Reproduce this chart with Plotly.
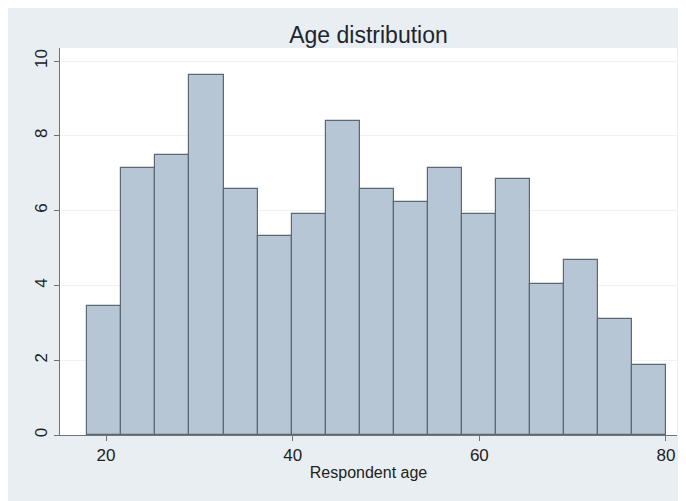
import plotly.graph_objects as go

# ---- data ----
bin_start = 18.0
bin_end = 80.0
percent = [3.44, 7.15, 7.48, 9.63, 6.57, 5.32, 5.92, 8.39, 6.57,
           6.23, 7.15, 5.92, 6.84, 4.04, 4.67, 3.11, 1.86]
x_ticks = [20, 40, 60, 80]
y_ticks = [0, 2, 4, 6, 8, 10]
title_text = "Age distribution"
x_title = "Respondent age"

n_bins = len(percent)
bw = (bin_end - bin_start) / n_bins
centers = [bin_start + bw * (i + 0.5) for i in range(n_bins)]

BG = "#E9EEF2"
FONT = "Liberation Sans, Arial, sans-serif"
TXT = "#222222"

fig = go.Figure()
fig.add_trace(go.Bar(
    x=centers, y=percent, width=[bw] * n_bins,
    marker=dict(color="#B7C6D4", line=dict(color="#5E6873", width=1.2)),
    hoverinfo="x+y",
))

# page is offset by the 8px body margin
W, H = 678, 493
L, R, T, B = 52, 9, 40, 66
pw, ph = W - L - R, H - T - B

fig.update_layout(
    width=W, height=H,
    margin=dict(l=L, r=R, t=T, b=B, pad=0),
    paper_bgcolor=BG,
    plot_bgcolor="white",
    showlegend=False,
    bargap=0,
    font=dict(family=FONT, color=TXT, size=16),
    title=dict(text=title_text, x=(L + pw / 2) / W, xanchor="center",
               y=1 - 27 / H, yanchor="middle",
               font=dict(size=23, color="#1E2530", family=FONT)),
)
fig.update_xaxes(
    range=[15.07, 81.18], tickvals=x_ticks, ticks="outside", ticklen=5,
    tickcolor="#6E747A", showline=True, linecolor="#6E747A", linewidth=1,
    showgrid=False, zeroline=False,
    tickfont=dict(size=17, color=TXT),
    title=dict(text=x_title, font=dict(size=16, color=TXT), standoff=2),
)
fig.update_yaxes(
    range=[0, 10.35], tickvals=y_ticks, ticks="outside", ticklen=5,
    tickcolor="#6E747A", showline=True, linecolor="#6E747A", linewidth=1,
    showgrid=True, gridcolor="#EEF2F4", gridwidth=1, zeroline=False,
    tickangle=-90, tickfont=dict(size=17, color=TXT),
)

fig.write_html("out.html")
